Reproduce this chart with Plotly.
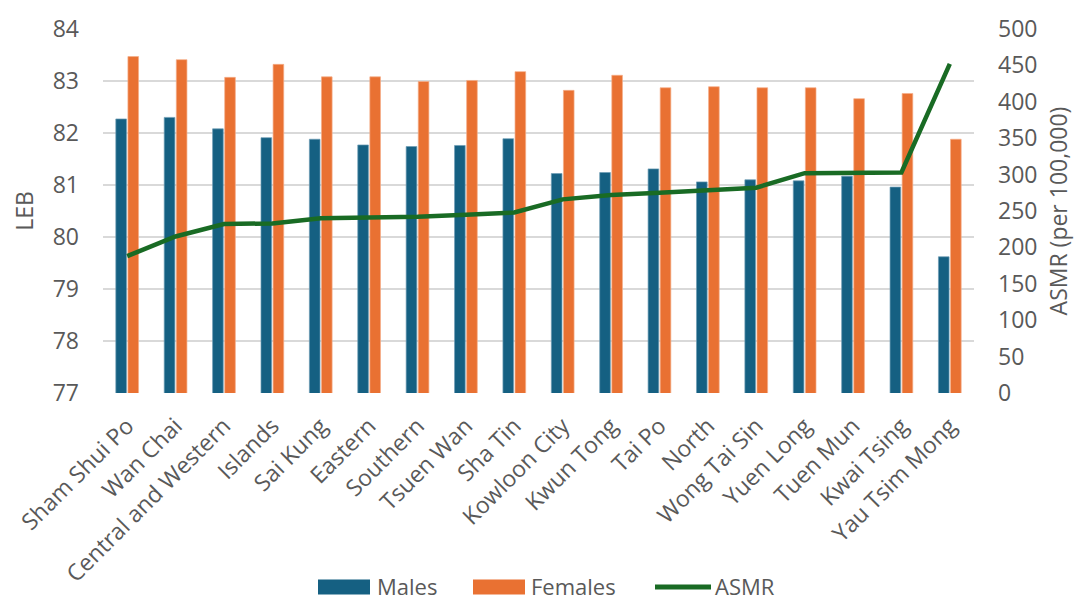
import plotly.graph_objects as go
from plotly.subplots import make_subplots

districts = [
    "Sham Shui Po", "Wan Chai", "Central and Western", "Islands", "Sai Kung",
    "Eastern", "Southern", "Tsuen Wan", "Sha Tin", "Kowloon City", "Kwun Tong",
    "Tai Po", "North", "Wong Tai Sin", "Yuen Long", "Tuen Mun", "Kwai Tsing",
    "Yau Tsim Mong",
]
leb_males = [82.27, 82.30, 82.08, 81.91, 81.88, 81.77, 81.74, 81.76, 81.89,
             81.22, 81.24, 81.31, 81.06, 81.10, 81.08, 81.17, 80.96, 79.62]
leb_females = [83.47, 83.41, 83.07, 83.32, 83.08, 83.08, 82.99, 83.01, 83.18,
               82.82, 83.11, 82.87, 82.89, 82.87, 82.87, 82.66, 82.76, 81.88]
asmr = [188, 215, 232, 233, 240, 241, 242, 245, 248,
        266, 272, 275, 279, 282, 302, 303, 303, 452]

FONT = "Open Sans"
GREY = "#595959"
FS = 23
C_MALE, C_FEMALE, C_ASMR = "#156082", "#E97132", "#196B24"

W, H = 1080, 603
ML, MR, MT, MB = 103, 106, 29, 210
PW, PH = W - ML - MR, H - MT - MB


def px(x):
    return (x - ML) / PW


def py(y):
    return (H - MB - y) / PH


fig = make_subplots(specs=[[{"secondary_y": True}]])

fig.add_trace(go.Bar(x=districts, y=leb_males, name="Males",
                     marker=dict(color=C_MALE, line=dict(color="#6d9cb5", width=0.7))),
              secondary_y=False)
fig.add_trace(go.Bar(x=districts, y=leb_females, name="Females",
                     marker=dict(color=C_FEMALE, line=dict(color="#f5ae88", width=0.7))),
              secondary_y=False)
fig.add_trace(go.Scatter(x=districts, y=asmr, name="ASMR", mode="lines",
                         line=dict(color=C_ASMR, width=4.5)),
              secondary_y=True)

# Legend drawn below the plot with wide swatches
legend_items = [
    ("Males", "rect", C_MALE, 318, 370, 376),
    ("Females", "rect", C_FEMALE, 473, 525, 530),
    ("ASMR", "line", C_ASMR, 655, 711, 714),
]
LEG_Y = 587
shapes, annotations = [], []
for label, kind, color, x0, x1, tx in legend_items:
    if kind == "rect":
        shapes.append(dict(type="rect", xref="paper", yref="paper",
                           x0=px(x0), x1=px(x1), y0=py(LEG_Y + 7.5), y1=py(LEG_Y - 7.5),
                           fillcolor=color, line=dict(width=0)))
    else:
        shapes.append(dict(type="line", xref="paper", yref="paper",
                           x0=px(x0), x1=px(x1), y0=py(LEG_Y), y1=py(LEG_Y),
                           line=dict(color=color, width=5)))
    annotations.append(dict(text=label, xref="paper", yref="paper",
                            x=px(tx), y=py(LEG_Y - 1), xanchor="left", yanchor="middle",
                            showarrow=False, borderpad=0,
                            font=dict(size=22, color=GREY, family=FONT)))

fig.update_layout(
    width=W, height=H,
    margin=dict(l=ML, r=MR, t=MT, b=MB),
    paper_bgcolor="white", plot_bgcolor="white",
    font=dict(family=FONT, size=FS, color=GREY),
    barmode="group", bargap=0.5, bargroupgap=0.12,
    showlegend=False,
    shapes=shapes, annotations=annotations,
)

fig.update_xaxes(domain=[0, 1], tickangle=-45, showgrid=False, showline=False, ticks="",
                 automargin=False, ticklabelstandoff=14, tickfont=dict(size=FS, color=GREY))
fig.update_yaxes(range=[77, 84], dtick=1, showgrid=True, gridcolor="#D9D9D9",
                 gridwidth=1.5, zeroline=False, showline=False, ticks="",
                 ticklabelstandoff=23, automargin=False,
                 title=dict(text="LEB", font=dict(size=FS, color=GREY), standoff=12),
                 tickfont=dict(size=FS, color=GREY), secondary_y=False)
fig.update_yaxes(range=[0, 500], dtick=50, showgrid=False, zeroline=False,
                 showline=False, ticks="", ticklabelstandoff=23, automargin=False,
                 title=dict(text="ASMR (per 100,000)", font=dict(size=FS, color=GREY), standoff=14),
                 tickfont=dict(size=FS, color=GREY), secondary_y=True)

fig.write_html("out.html")
